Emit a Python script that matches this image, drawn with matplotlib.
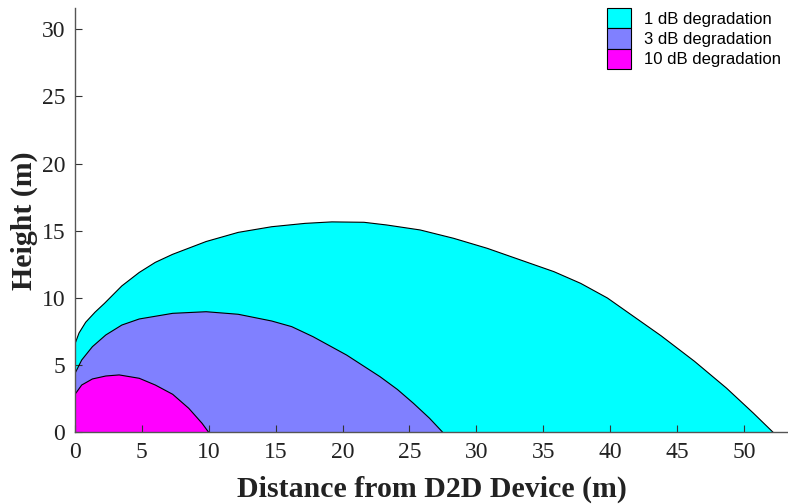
import matplotlib
matplotlib.use('Agg')
import matplotlib.pyplot as plt
from matplotlib.patches import Patch

# boundary points (distance m, height m)
cyan_x = [0, 0.3, 0.8, 1.5, 2.2, 3.5, 4.8, 6.0, 7.3, 9.8, 12.2, 14.7, 17.2, 19.2, 21.6,
          23.3, 25.8, 28.3, 30.8, 33.3, 35.8, 37.8, 39.8, 41.3, 43.8, 46.3, 48.7, 50.7, 52.2]
cyan_y = [6.6, 7.4, 8.2, 8.95, 9.6, 10.9, 11.9, 12.65, 13.25, 14.2, 14.88, 15.3, 15.55, 15.66, 15.63,
          15.43, 15.06, 14.44, 13.7, 12.83, 11.96, 11.09, 10.0, 8.95, 7.2, 5.3, 3.3, 1.45, 0]

purple_x = [0, 0.5, 1.3, 2.3, 3.5, 4.8, 7.3, 9.8, 12.2, 14.7, 16.2, 17.8, 20.3,
            22.8, 24.1, 25.3, 26.5, 27.5]
purple_y = [4.4, 5.39, 6.38, 7.25, 7.99, 8.44, 8.86, 8.98, 8.79, 8.29, 7.87, 7.12, 5.76,
            4.15, 3.2, 2.17, 1.06, 0]

magenta_x = [0, 0.5, 1.3, 2.3, 3.3, 4.8, 6.0, 7.3, 8.5, 9.5, 10.0]
magenta_y = [2.84, 3.53, 3.98, 4.2, 4.28, 4.03, 3.53, 2.84, 1.8, 0.68, 0]

labels = ['1 dB degradation', '3 dB degradation', '10 dB degradation']
colors = ['#00FFFF', '#8080FF', '#FF00FF']
curves = [(cyan_x, cyan_y), (purple_x, purple_y), (magenta_x, magenta_y)]

fig = plt.figure(figsize=(7.88, 5.04), dpi=100)
ax = fig.add_axes([0.0952, 0.1419, 0.9048, 0.8421])

for (xs, ys), c in zip(curves, colors):
    ax.fill([0] + xs, [0] + ys, color=c, linewidth=0)
    ax.plot(xs, ys, color='black', linewidth=0.8)

ax.set_xlim(0, 53.3)
ax.set_ylim(0, 31.56)
ax.set_xticks(range(0, 55, 5))
ax.set_yticks(range(0, 35, 5))

for s in ['top', 'right']:
    ax.spines[s].set_visible(False)
for s in ['left', 'bottom']:
    ax.spines[s].set_color('#555555')
    ax.spines[s].set_linewidth(1.0)

ax.tick_params(direction='in', length=5, color='#333333', labelsize=17, pad=7)
for lab in ax.get_xticklabels() + ax.get_yticklabels():
    lab.set_fontfamily('Liberation Serif')
    lab.set_color('#222222')

ax.set_xlabel('Distance from D2D Device (m)', fontsize=21.5, fontweight='bold',
              family='Liberation Serif', color='#222222', labelpad=9)
ax.set_ylabel('Height (m)', fontsize=21.5, fontweight='bold',
              family='Liberation Serif', color='#222222', labelpad=3)

handles = [Patch(facecolor=c, edgecolor='black', linewidth=0.8) for c in colors]
ax.legend(handles, labels, loc='upper right', bbox_to_anchor=(0.99, 1.0),
          frameon=False, prop={'family': 'Liberation Sans', 'size': 12},
          handlelength=1.45, handleheight=1.5, labelspacing=0, handletextpad=0.75,
          borderaxespad=0.0, borderpad=0.0)

fig.savefig('out.png', dpi=100)
